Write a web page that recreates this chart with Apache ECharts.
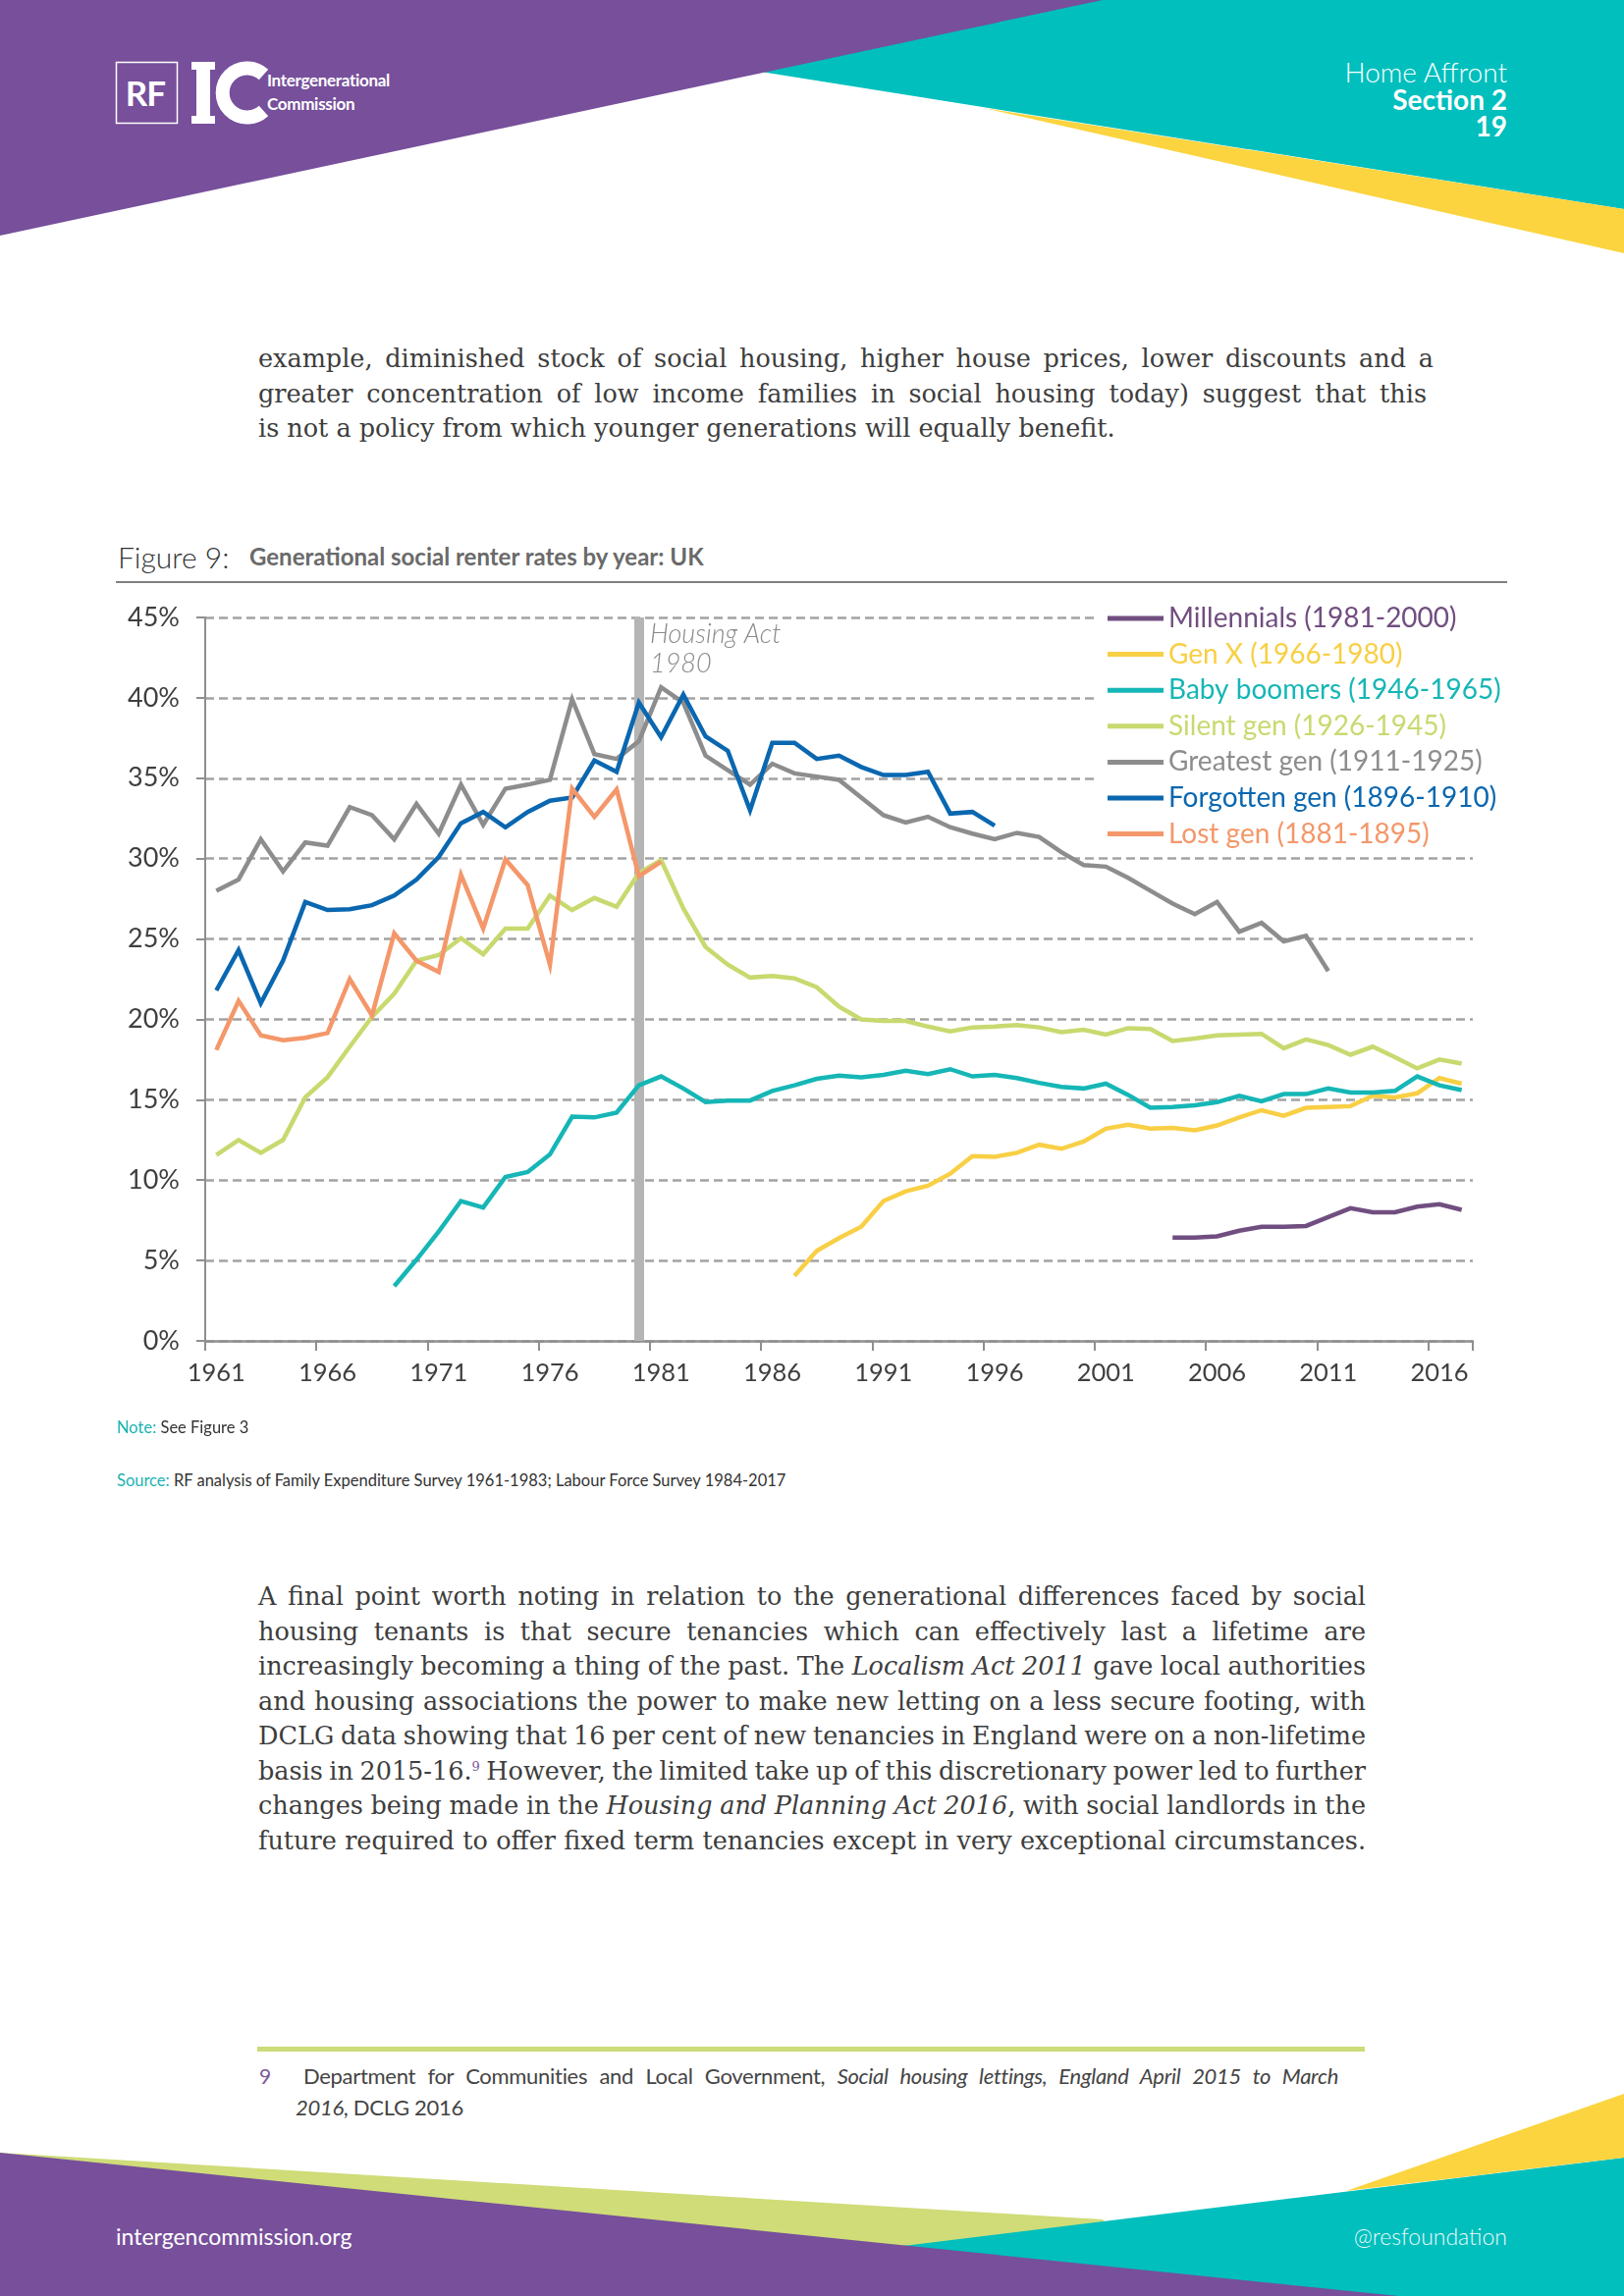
<!DOCTYPE html>
<html>
<head>
<meta charset="utf-8">
<script src="https://cdn.jsdelivr.net/npm/echarts@6/dist/echarts.min.js"></script>
<style>
html,body{margin:0;padding:0;background:#fff;}
#page{position:relative;width:1654px;height:2339px;overflow:hidden;background:#fff;font-family:Lato,'Noto Sans',sans-serif;}
.abs{position:absolute;white-space:nowrap;}
.para{position:absolute;font-family:'DejaVu Serif',serif;font-size:25.5px;color:#3d3d3d;line-height:35.5px;}
.para .ln{display:block;white-space:nowrap;width:max-content;}
#chart{position:absolute;left:0;top:600px;width:1654px;height:850px;}
</style>
</head>
<body>
<div id="page">
  <svg class="abs" style="left:0;top:0" width="1654" height="2339">
    <!-- header -->
    <polygon points="316,0 1654,0 1654,213" fill="#00bfbd"/>
    <polygon points="1002,110 1654,213 1654,258" fill="#fbd43f"/>
    <polygon points="0,0 1123,0 0,240" fill="#774f9b"/>
    <!-- logo -->
    <rect x="118.5" y="63.5" width="62" height="62" fill="none" stroke="#fff" stroke-width="1.5"/>
    <rect x="200" y="63" width="14" height="63" fill="#fff"/>
    <rect x="195" y="63" width="24" height="8" fill="#fff"/>
    <rect x="195" y="118" width="24" height="8" fill="#fff"/>
    <path d="M 268.5 76 A 25 25 0 1 0 268.5 113" fill="none" stroke="#fff" stroke-width="14"/>
    <!-- footer -->
    <polygon points="0,2193 1123,2261 1200,2339 0,2339" fill="#cfdc78"/>
    <polygon points="504,2339 1654,2198 1654,2339" fill="#00bfbd"/>
    <polygon points="1371,2232 1654,2133 1654,2198" fill="#fbd43f"/>
    <polygon points="0,2193 1424,2339 0,2339" fill="#774f9b"/>
    <!-- rules -->
    <rect x="118" y="592" width="1417" height="2" fill="#808080"/>
    <rect x="262" y="2085" width="1128" height="5" fill="#cddb78"/>
  </svg>

  <div class="abs" style="left:127px;top:74px;width:42px;text-align:center;color:#fff;font-weight:700;font-size:35px;line-height:40px;letter-spacing:-1px;">RF</div>
  <div class="abs" style="left:272px;top:71px;color:#fff;font-weight:700;font-size:17px;line-height:22px;letter-spacing:-0.3px;">Intergenerational</div>
  <div class="abs" style="left:272px;top:95px;color:#fff;font-weight:700;font-size:17px;line-height:22px;letter-spacing:-0.3px;">Commission</div>

  <div class="abs" style="right:119px;top:57px;color:#fff;font-weight:300;font-size:28px;line-height:32px;text-align:right;">Home Affront</div>
  <div class="abs" style="right:119px;top:85px;color:#fff;font-weight:700;font-size:28px;line-height:32px;text-align:right;">Section 2</div>
  <div class="abs" style="right:119px;top:112px;color:#fff;font-weight:700;font-size:28px;line-height:32px;text-align:right;">19</div>

  <div class="para" style="left:263px;top:348px;">
    <div class="ln" data-w="1197">example, diminished stock of social housing, higher house prices, lower discounts and a</div>
    <div class="ln" data-w="1190">greater concentration of low income families in social housing today) suggest that this</div>
    <div class="ln">is not a policy from which younger generations will equally benefit.</div>
  </div>

  <div class="abs" style="left:120px;top:549px;font-size:30px;font-weight:300;color:#333;line-height:36px;">Figure 9:</div>
  <div class="abs" style="left:254px;top:552px;font-size:24px;font-weight:700;color:#6a6a6a;line-height:30px;">Generational social renter rates by year: UK</div>

  <div id="chart"></div>

  <div class="abs" style="left:119px;top:1443px;font-size:16.5px;color:#333;line-height:22px;"><span style="color:#1bb3b1">Note:</span> See Figure 3</div>
  <div class="abs" style="left:119px;top:1497px;font-size:16.5px;color:#333;line-height:22px;"><span style="color:#1bb3b1">Source:</span> RF analysis of Family Expenditure Survey 1961-1983; Labour Force Survey 1984-2017</div>

  <div class="para" style="left:263px;top:1609px;">
    <div class="ln" data-w="1128">A final point worth noting in relation to the generational differences faced by social</div>
    <div class="ln" data-w="1128">housing tenants is that secure tenancies which can effectively last a lifetime are</div>
    <div class="ln" data-w="1128">increasingly becoming a thing of the past. The <i>Localism Act 2011</i> gave local authorities</div>
    <div class="ln" data-w="1128">and housing associations the power to make new letting on a less secure footing, with</div>
    <div class="ln" data-w="1128">DCLG data showing that 16 per cent of new tenancies in England were on a non-lifetime</div>
    <div class="ln" data-w="1128">basis in 2015-16.<sup style="font-size:13px;color:#7a5a9a;line-height:0;">9</sup> However, the limited take up of this discretionary power led to further</div>
    <div class="ln" data-w="1128">changes being made in the <i>Housing and Planning Act 2016</i>, with social landlords in the</div>
    <div class="ln" data-w="1128">future required to offer fixed term tenancies except in very exceptional circumstances.</div>
  </div>

  <div class="abs" style="left:264px;top:2101px;font-size:21px;color:#7a5a9a;line-height:28px;">9</div>
  <div class="abs" style="left:309px;top:2101px;font-size:22px;color:#444;line-height:28px;"><span class="ln" data-w="1054" style="display:block;width:max-content;letter-spacing:-0.3px;">Department for Communities and Local Government, <i>Social housing lettings, England April 2015 to March</i></span></div>
  <div class="abs" style="left:301px;top:2133px;font-size:22px;color:#444;line-height:28px;letter-spacing:-0.3px;"><i>2016</i>, DCLG 2016</div>

  <div class="abs" style="left:118px;top:2264px;font-size:23px;color:#fff;line-height:28px;">intergencommission.org</div>
  <div class="abs" style="right:119px;top:2264px;font-size:23px;font-weight:300;color:#eefafa;line-height:28px;">@resfoundation</div>
</div>

<script>
// ---- data ----
const years = ['1961','1962','1963','1964','1965','1966','1967','1968','1969','1970',
  '1971','1972','1973','1974','1975','1976','1977','1978','1979','1980',
  '1981','1982','1983','1984','1985','1986','1987','1988','1989','1990',
  '1991','1992','1993','1994','1995','1996','1997','1998','1999','2000',
  '2001','2002','2003','2004','2005','2006','2007','2008','2009','2010',
  '2011','2012','2013','2014','2015','2016','2017'];

const yTicks = [0,5,10,15,20,25,30,35,40,45];

const millennialsStart = 2004;
const millennials = [6.43,6.43,6.5,6.85,7.1,7.1,7.15,7.7,8.25,8.0,8.0,8.35,8.5,8.15];

const genXStart = 1987;
const genX = [4.05,5.6,6.4,7.1,8.7,9.3,9.65,10.4,11.5,11.45,11.7,12.2,11.95,12.4,
  13.2,13.45,13.2,13.25,13.1,13.4,13.9,14.35,14.0,14.5,14.55,14.6,15.25,15.15,15.4,16.35,16.0];

const boomersStart = 1969;
const boomers = [3.4,5.05,6.8,8.7,8.3,10.2,10.5,11.6,13.95,13.9,14.2,15.9,
  16.45,15.7,14.85,14.95,14.95,15.55,15.9,16.3,16.5,16.4,
  16.55,16.8,16.6,16.9,16.45,16.55,16.35,16.05,15.8,15.7,
  16.0,15.3,14.5,14.55,14.65,14.85,15.25,14.9,15.35,15.35,
  15.7,15.45,15.45,15.55,16.45,15.9,15.6];

const silentStart = 1961;
const silent = [11.57,12.5,11.7,12.5,15.15,16.4,18.3,20.15,21.6,23.65,
  24.0,25.05,24.05,25.65,25.65,27.7,26.8,27.55,27.0,29.1,
  29.9,26.9,24.5,23.4,22.6,22.7,22.55,22.0,20.8,20.0,
  19.9,19.9,19.55,19.25,19.5,19.55,19.65,19.5,19.2,19.35,
  19.05,19.45,19.4,18.65,18.8,19.0,19.05,19.1,18.2,18.75,
  18.4,17.8,18.3,17.65,16.95,17.5,17.25];

const greatestStart = 1961;
const greatest = [28.0,28.7,31.2,29.2,31.0,30.8,33.2,32.7,31.2,33.4,
  31.55,34.6,32.1,34.35,34.6,34.9,39.9,36.5,36.2,37.3,
  40.65,39.7,36.4,35.5,34.6,35.9,35.3,35.1,34.9,33.8,
  32.7,32.25,32.6,31.95,31.55,31.2,31.6,31.35,30.4,29.6,
  29.5,28.8,28.0,27.2,26.55,27.3,25.45,26.0,24.85,25.2,23.0];

const forgottenStart = 1961;
const forgotten = [21.8,24.3,21.0,23.65,27.3,26.8,26.85,27.1,27.7,28.7,
  30.1,32.2,32.9,31.95,32.9,33.6,33.8,36.1,35.4,39.7,
  37.55,40.2,37.6,36.7,33.0,37.2,37.2,36.2,36.4,35.7,
  35.2,35.2,35.4,32.8,32.9,32.05];

const lostStart = 1961;
const lost = [18.1,21.15,19.0,18.7,18.85,19.15,22.5,20.25,25.35,23.65,
  22.95,29.0,25.65,29.95,28.35,23.4,34.35,32.6,34.3,28.9,29.8];

const housingActYear = '1980';

// ---- presentation ----
const seriesDefs = [
  {name:'Millennials (1981-2000)', color:'#714e80', start:millennialsStart, values:millennials},
  {name:'Gen X (1966-1980)', color:'#f8cf45', start:genXStart, values:genX},
  {name:'Baby boomers (1946-1965)', color:'#16b6b6', start:boomersStart, values:boomers},
  {name:'Silent gen (1926-1945)', color:'#c9d96f', start:silentStart, values:silent},
  {name:'Greatest gen (1911-1925)', color:'#8d8d8d', start:greatestStart, values:greatest},
  {name:'Forgotten gen (1896-1910)', color:'#0a67b0', start:forgottenStart, values:forgotten},
  {name:'Lost gen (1881-1895)', color:'#f4976a', start:lostStart, values:lost}
];

function alignToYears(start, values){
  return years.map(y => { const i = Number(y) - start; return (i >= 0 && i < values.length) ? values[i] : null; });
}

const FONT = 'Lato';
const axisGrey = '#8f8f8f';

const series = seriesDefs.map((s, k) => {
  const o = {
    name: s.name, type: 'line', data: alignToYears(s.start, s.values),
    showSymbol: false, symbol: 'none', connectNulls: false, smooth: false,
    lineStyle: {width: 4.5, color: s.color, cap: 'butt', join: 'miter'},
    itemStyle: {color: s.color},
    emphasis: {disabled: true}, silent: true
  };
  if (k === 0) {
    o.markLine = {
      silent: true, symbol: ['none','none'], z: 1, animation: false,
      label: {show: false},
      lineStyle: {color: '#b5b5b5', width: 10, type: 'solid'},
      data: [{xAxis: housingActYear}]
    };
  }
  return o;
});

const chart = echarts.init(document.getElementById('chart'), null, {renderer: 'canvas'});
chart.setOption({
  animation: false,
  textStyle: {fontFamily: FONT},
  grid: {left: 209, top: 29, width: 1291, height: 737, containLabel: false},
  legend: {
    orient: 'vertical', left: 1114, top: 10,
    padding: [6, 20, 3, 14],
    backgroundColor: '#ffffff',
    icon: 'rect', itemWidth: 57, itemHeight: 5, itemGap: 8.6,
    selectedMode: false,
    textStyle: {fontSize: 28, lineHeight: 26, fontFamily: FONT},
    data: seriesDefs.map(s => ({name: s.name, textStyle: {color: s.color}}))
  },
  xAxis: {
    type: 'category', data: years, boundaryGap: true,
    axisLine: {show: true, lineStyle: {color: axisGrey, width: 2.5}},
    axisTick: {show: true, interval: 4, length: 10, alignWithLabel: false, lineStyle: {color: axisGrey, width: 2}},
    axisLabel: {interval: 4, fontSize: 25.5, color: '#3f3f3f', margin: 20, fontFamily: FONT},
    splitLine: {show: false}
  },
  yAxis: {
    type: 'value', min: yTicks[0], max: yTicks[yTicks.length - 1], interval: yTicks[1] - yTicks[0],
    axisLine: {show: true, lineStyle: {color: axisGrey, width: 2}},
    axisTick: {show: true, length: 9, lineStyle: {color: axisGrey, width: 2}},
    axisLabel: {formatter: '{value}%', fontSize: 27, color: '#3f3f3f', margin: 26, fontFamily: FONT},
    splitLine: {show: true, lineStyle: {color: '#a3a3a3', width: 2.5, type: [9, 5]}}
  },
  graphic: [{
    type: 'text', left: 662, top: 31, silent: true,
    style: {text: 'Housing Act\n' + housingActYear, fill: '#8a8a8a', font: 'italic 300 27px Lato', lineHeight: 30}
  }],
  series: series
});

// ---- justify body text lines ----
function justify(){
  document.querySelectorAll('.ln[data-w]').forEach(el => {
    el.style.wordSpacing = '0px';
    const target = parseFloat(el.dataset.w);
    const nat = el.getBoundingClientRect().width;
    const spaces = (el.textContent.match(/ /g) || []).length;
    if (spaces > 0) el.style.wordSpacing = ((target - nat) / spaces) + 'px';
  });
}
justify();
if (document.fonts && document.fonts.ready) document.fonts.ready.then(justify);
</script>
</body>
</html>
